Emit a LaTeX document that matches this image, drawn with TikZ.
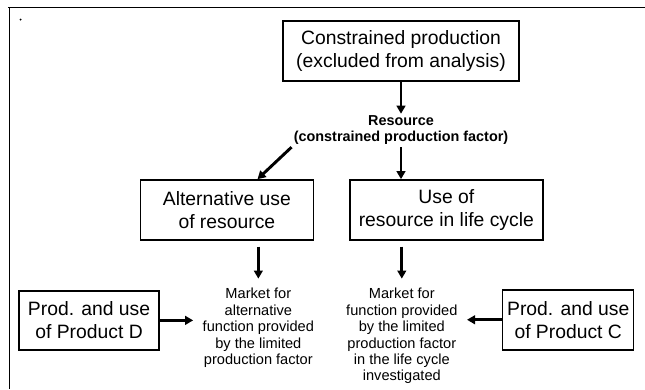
\documentclass[tikz,border=0pt]{standalone}
\usepackage{fontspec}
\setmainfont{Liberation Sans}
\usetikzlibrary{arrows.meta, positioning}

\tikzset{
    box/.style={draw, line width=1.1pt, align=center, inner sep=2pt,
        minimum height=45pt, font=\fontsize{14.5}{17.25}\selectfont},
    market/.style={align=center, inner sep=7pt,
        font=\fontsize{10.95}{12.3}\selectfont},
    arr/.style={line width=2.2pt, -{Triangle[length=6pt,width=6.5pt]}}
}

\begin{document}
\begin{tikzpicture}[x=0.75pt, y=-0.75pt]

\useasboundingbox (0,0) rectangle (645,389);

% frame
\draw[line width=1.1pt] (8,7.5) -- (645,7.5);
\draw[line width=1.1pt] (9.5,7.5) -- (9.5,389);
\fill (20.5,19.5) circle (1);

\node[box,
    minimum width=177pt
] (prod) at (401,51) {Constrained production\\(excluded from analysis)};

\node[align=center,
    below=24pt of prod,
    inner sep=1.5pt,
    font=\bfseries\fontsize{10.8}{12}\selectfont
] (res) {Resource\\(constrained production factor)};

\node[box,
    below=24pt of res,
    xshift=34pt,
    minimum width=144.75pt
] (use) {Use of\\resource in life cycle};

\node[box,
    left=26.25pt of use,
    minimum width=129.75pt
] (alt) {Alternative use\\of resource};

% markets
\node[market,
    below=28.5pt of alt,
    xshift=23.6pt
] (mkA) {Market for\\alternative\\function provided\\by the limited\\production factor};

\node[market,
    below=28.5pt of use,
    xshift=-33.4pt
] (mkB) {Market for\\function provided\\by the limited\\production factor\\in the life cycle\\investigated};

% products
\node[box,
    left=25pt of mkA,
    yshift=5.6pt,
    minimum width=105pt,
    minimum height=44.25pt
] (prodD) {Prod. and use\\of Product D};

\node[box,
    right=26.25pt of mkB,
    yshift=12.2pt,
    minimum width=98.25pt
] (prodC) {Prod. and use\\of Product C};

% Arrows
\draw[arr] (prod) -- (res);
\draw[arr] (res.south west) -- ([xshift=23pt]alt.north);
\draw[arr] (res.south) -- (res.south |- use.north);
\draw[arr] ([yshift=-4.5pt]alt.south -| mkA.north) -- (mkA.north);
\draw[arr] ([yshift=-4.5pt]use.south -| mkB.north) -- (mkB.north);
\draw[arr] (prodD.east) -- (prodD.east -| mkA.west);
\draw[arr] (prodC.west) -- (prodC.west -| mkB.east);

\end{tikzpicture}
\end{document}
